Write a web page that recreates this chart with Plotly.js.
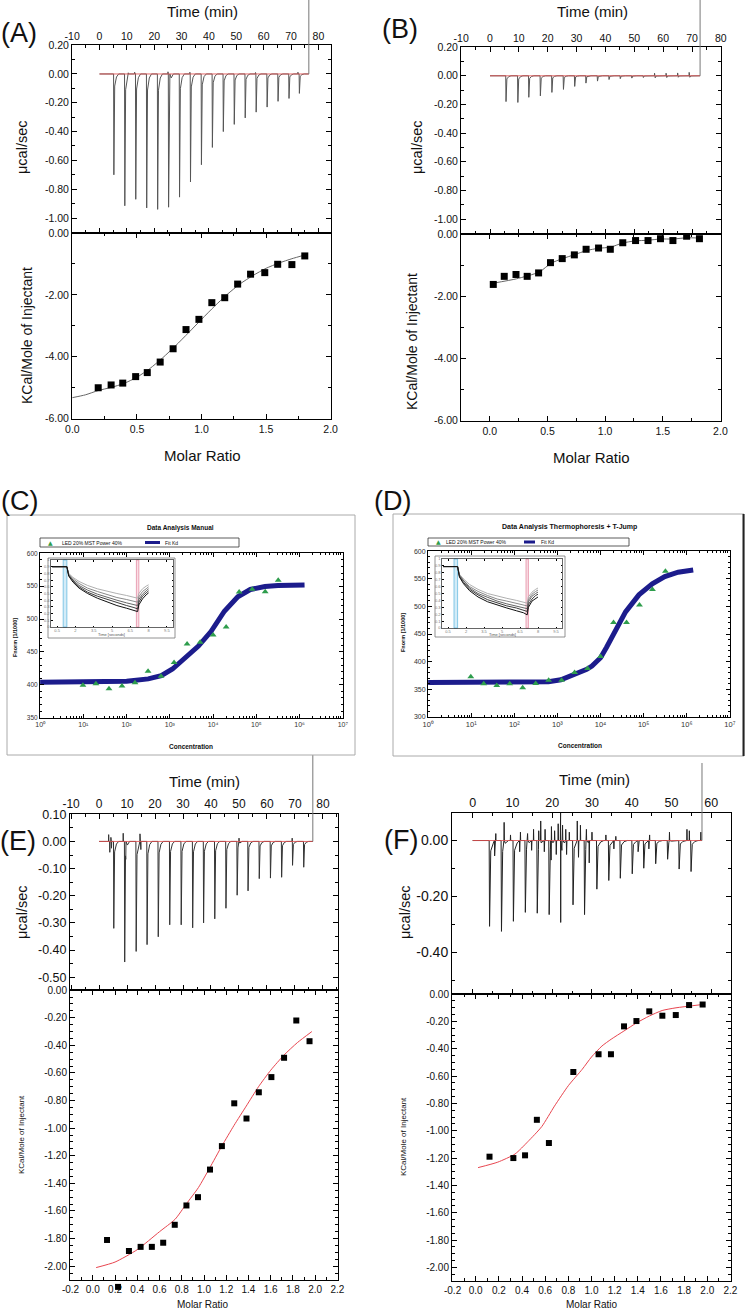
<!DOCTYPE html>
<html><head><meta charset="utf-8">
<script src="https://cdn.plot.ly/plotly-3.0.1.min.js"></script>
<style>html,body{margin:0;padding:0;background:#fff;}#chart{width:745px;height:1309px;}</style>
</head><body><div id="chart"></div>
<script>
// ================= DATA =================
// Panel A – raw ITC thermogram
const aInjTime = [5.2,9.2,13.2,17.2,21.2,25.2,29.2,33.2,37.2,41.2,45.2,49.2,53.2,57.2,61.2,65.2,69.2,73.0];
const aInjPeak = [-0.70,-0.915,-0.87,-0.93,-0.94,-0.925,-0.855,-0.75,-0.63,-0.51,-0.40,-0.35,-0.305,-0.265,-0.23,-0.19,-0.17,-0.135];
const aSubTime = [25.6];
const aSubPeak = [-0.065];
const aUpTime = [10.5,12.8,25.0,33.0,57.0,72.5];
const aUpPeak = [0.008,0.012,0.015,0.012,0.01,0.012];
const aEndTime = 76.5;
// Panel A – integrated heats
const aRatio = [0.20,0.30,0.39,0.49,0.58,0.68,0.78,0.88,0.98,1.08,1.18,1.28,1.38,1.49,1.59,1.70,1.80];
const aHeat = [-5.00,-4.91,-4.85,-4.64,-4.51,-4.17,-3.74,-3.12,-2.79,-2.25,-2.09,-1.65,-1.33,-1.28,-1.01,-1.02,-0.74];
const aFitRatio = [0,0.1,0.2,0.3,0.4,0.5,0.6,0.7,0.8,0.9,1.0,1.1,1.2,1.3,1.4,1.5,1.6,1.7,1.8];
const aFitHeat = [-5.32,-5.23,-5.09,-4.99,-4.86,-4.66,-4.38,-4.03,-3.64,-3.22,-2.79,-2.37,-1.98,-1.64,-1.37,-1.14,-0.97,-0.83,-0.71];

// Panel B – raw ITC thermogram
const bInjTime = [5.5,9.6,13.4,17.4,21.4,25.4,29.3,33.2,37.2,41.2,45.1,49.1,53.1,57.2,61.2,65.2,69.2];
const bInjPeak = [-0.18,-0.186,-0.15,-0.14,-0.116,-0.095,-0.074,-0.051,-0.037,-0.026,-0.02,-0.016,-0.012,-0.014,-0.012,-0.01,-0.01];
const bSubTime = [];
const bSubPeak = [];
const bUpTime = [57.0,61.0,65.0,69.0];
const bUpPeak = [0.018,0.018,0.02,0.024];
const bEndTime = 72.8;
// Panel B – integrated heats
const bRatio = [0.03,0.125,0.227,0.324,0.423,0.526,0.628,0.733,0.835,0.943,1.045,1.153,1.264,1.372,1.48,1.588,1.707,1.818];
const bHeat = [-1.62,-1.36,-1.30,-1.36,-1.25,-0.92,-0.79,-0.67,-0.49,-0.45,-0.49,-0.28,-0.21,-0.21,-0.15,-0.21,-0.07,-0.15];
const bFitRatio = [0.03,0.23,0.43,0.53,0.63,0.73,0.84,0.94,1.05,1.15,1.26,1.37,1.48,1.59,1.71,1.82];
const bFitHeat = [-1.58,-1.44,-1.22,-0.94,-0.79,-0.67,-0.53,-0.46,-0.42,-0.29,-0.22,-0.20,-0.16,-0.16,-0.12,-0.13];

// Panels C / D – MST
const mstConc = [9.77,19.5,39.1,78.1,156,313,625,1250,2500,5000,10000,20000,40000,80000,160000,320000];
const cFnorm = [399.5,401.5,394,398,403,420.7,413,434,462,464.6,475.8,488,541,545.5,541.4,559];
const cFitConc = [1,10,100,316,631,1150,2290,4570,8910,18200,37200,72400,158000,316000,1300000];
const cFitFnorm = [404,404,405.5,409,414,424,441,459,481,512,534,545,549.5,551,552];
const dFnorm = [372.3,359.6,356.6,359.6,352.4,360.2,366.3,366.3,380,387.3,409,471,471,502.4,530.7,563.9];
const dFitConc = [1,100,617,1200,2450,4790,6310,10000,13800,19950,38000,77600,158500,309000,631000,1410000];
const dFitFnorm = [362,362.5,363.5,367,376,386,392,407,426,450,490,521,541,554,562,566];
// MST time traces (insets)
const insetTime = [0.1,1.3,1.45,1.8,2.3,3.0,3.8,4.6,5.4,6.2,6.8,7.1,7.2,7.5,7.8,8.0];
const cTrace1 = [0.90,0.90,0.80,0.74,0.68,0.62,0.57,0.53,0.50,0.47,0.45,0.43,0.50,0.57,0.61,0.63];
const cTrace2 = [0.90,0.90,0.79,0.72,0.65,0.58,0.53,0.48,0.44,0.41,0.39,0.37,0.45,0.53,0.57,0.60];
const cTrace3 = [0.90,0.90,0.78,0.70,0.62,0.55,0.49,0.44,0.40,0.36,0.34,0.32,0.41,0.49,0.54,0.57];
const cTrace4 = [0.90,0.90,0.77,0.69,0.60,0.52,0.46,0.41,0.36,0.32,0.29,0.27,0.37,0.46,0.51,0.54];
const cTrace5 = [0.90,0.90,0.76,0.67,0.58,0.50,0.43,0.37,0.32,0.28,0.25,0.23,0.33,0.42,0.48,0.51];
const dTrace1 = [0.89,0.89,0.78,0.71,0.63,0.56,0.50,0.46,0.43,0.40,0.38,0.36,0.45,0.52,0.56,0.58];
const dTrace2 = [0.89,0.89,0.77,0.69,0.60,0.53,0.47,0.42,0.39,0.36,0.34,0.32,0.41,0.49,0.53,0.55];
const dTrace3 = [0.89,0.89,0.76,0.68,0.58,0.50,0.44,0.39,0.35,0.32,0.30,0.28,0.38,0.46,0.50,0.52];
const dTrace4 = [0.89,0.89,0.75,0.66,0.56,0.48,0.41,0.36,0.32,0.29,0.26,0.24,0.34,0.42,0.47,0.49];
const dTrace5 = [0.89,0.89,0.74,0.64,0.54,0.45,0.38,0.33,0.29,0.25,0.22,0.19,0.30,0.39,0.43,0.45];
const coldBand = [1.0,1.3];
const hotBand = [7.0,7.2];

// Panel E – raw ITC
const eInjTime = [5.2,9.1,13.2,17.1,21.1,25.2,29.3,33.4,37.3,41.3,45.3,49.3,53.2,57.2,61.2,65.2,69.1,73.1];
const eInjPeak = [-0.32,-0.444,-0.405,-0.38,-0.351,-0.307,-0.307,-0.318,-0.30,-0.285,-0.246,-0.198,-0.182,-0.137,-0.135,-0.132,-0.088,-0.095];
const eSubTime = [3.8,4.4,9.5,14.9];
const eSubPeak = [-0.04,-0.025,-0.066,-0.03];
const eUpTime = [3.4,4.2,8.6,14.6,50.0,69.0];
const eUpPeak = [0.025,0.015,0.03,0.028,0.012,0.012];
const eEndTime = 76.4;
// Panel E – integrated heats
const eRatio = [0.128,0.227,0.325,0.43,0.531,0.633,0.737,0.842,0.946,1.054,1.161,1.272,1.382,1.493,1.606,1.72,1.83,1.949];
const eHeat = [-1.81,-2.15,-1.89,-1.86,-1.86,-1.83,-1.70,-1.56,-1.50,-1.30,-1.13,-0.82,-0.93,-0.74,-0.63,-0.49,-0.22,-0.37];
const eFitRatio = [0.03,0.2,0.4,0.6,0.74,0.84,0.95,1.05,1.16,1.27,1.38,1.49,1.6,1.72,1.84,1.97];
const eFitHeat = [-2.01,-1.97,-1.88,-1.75,-1.66,-1.55,-1.43,-1.29,-1.13,-0.98,-0.84,-0.70,-0.58,-0.47,-0.38,-0.30];

// Panel F – raw ITC
const fInjTime = [4.2,7.2,10.2,13.2,16.2,19.2,22.1,25.2,28.1,31.2,34.2,37.1,40.1,43.0,46.0,49.0,51.9,54.9];
const fInjPeak = [-0.307,-0.325,-0.289,-0.257,-0.26,-0.265,-0.293,-0.23,-0.265,-0.174,-0.143,-0.135,-0.119,-0.099,-0.083,-0.067,-0.102,-0.111];
const fSubTime = [5.5,11.8,14.8,18.0,19.7,21.0,23.6,26.6,29.3,35.5,41.6,44.3];
const fSubPeak = [-0.055,-0.04,-0.035,-0.04,-0.07,-0.05,-0.05,-0.06,-0.08,-0.03,-0.04,-0.03];
const fUpTime = [5.8,7.9,9.5,12.0,13.8,15.3,16.6,17.1,18.2,19.8,20.6,21.5,22.1,22.6,23.4,24.3,26.3,27.1,28.6,30.0,33.5,36.0,44.5,49.5,53.9,54.5,57.4];
const fUpPeak = [0.025,0.065,0.02,0.03,0.025,0.04,0.035,0.07,0.04,0.05,0.035,0.06,0.10,0.055,0.04,0.03,0.07,0.055,0.04,0.03,0.02,0.015,0.02,0.03,0.04,0.035,0.03];
const fEndTime = 57.7;
// Panel F – integrated heats
const fRatio = [0.119,0.325,0.426,0.528,0.632,0.843,1.061,1.168,1.281,1.388,1.499,1.612,1.728,1.843,1.96];
const fHeat = [-1.19,-1.20,-1.18,-0.92,-1.09,-0.57,-0.44,-0.44,-0.236,-0.197,-0.126,-0.158,-0.153,-0.08,-0.076];
const fFitRatio = [0.02,0.19,0.34,0.45,0.57,0.68,0.8,0.92,1.0,1.09,1.17,1.28,1.39,1.5,1.61,1.73,1.96];
const fFitHeat = [-1.27,-1.23,-1.17,-1.08,-0.97,-0.82,-0.67,-0.55,-0.46,-0.38,-0.33,-0.27,-0.21,-0.16,-0.12,-0.10,-0.076];

// Tick labels
const timeTicksAE = [-10,0,10,20,30,40,50,60,70,80];
const timeTicksF = [0,10,20,30,40,50,60];
const powerTicksAB = [0.2,0,-0.2,-0.4,-0.6,-0.8,-1.0];
const heatTicksAB = [0,-2,-4,-6];
const ratioTicksAB = [0,0.5,1,1.5,2];
const powerTicksE = [0.1,0,-0.1,-0.2,-0.3,-0.4,-0.5];
const powerTicksF = [0,-0.2,-0.4];
const heatTicksEF = [0,-0.2,-0.4,-0.6,-0.8,-1.0,-1.2,-1.4,-1.6,-1.8,-2.0];
const ratioTicksEF = [-0.2,0,0.2,0.4,0.6,0.8,1.0,1.2,1.4,1.6,1.8,2.0,2.2];
const fnormTicksC = [350,400,450,500,550,600];
const fnormTicksD = [300,350,400,450,500,550,600];
const concTicks = [1,10,100,1000,10000,100000,1000000,10000000];
const concTickText = ['10⁰','10¹','10²','10³','10⁴','10⁵','10⁶','10⁷'];

// ================= HELPERS =================
const FONT = '"Liberation Sans", Arial, Helvetica, sans-serif';
const W = 745, H = 1309;
const px = v => v / W;
const py = v => 1 - v / H;

function thermo(injT, injD, subT, subV, upT, upV, endT) {
  const pts = [[0, 0]];
  injT.forEach((t, i) => { const d = injD[i];
    pts.push([t - 0.05, 0], [t + 0.05, d], [t + 0.35, 0.12 * d], [t + 1.0, 0.03 * d], [t + 1.8, 0]); });
  subT.forEach((t, i) => { pts.push([t - 0.03, 0], [t + 0.03, subV[i]], [t + 0.12, 0]); });
  upT.forEach((t, i) => { pts.push([t - 0.03, 0], [t + 0.02, upV[i]], [t + 0.08, 0]); });
  pts.push([endT, 0]);
  pts.sort((a, b) => a[0] - b[0]);
  return { x: pts.map(p => p[0]), y: pts.map(p => p[1]) };
}
function tk(vals, dec) { return { tickmode: 'array', tickvals: vals, ticktext: vals.map(v => v.toFixed(dec)) }; }
function ax(o) {
  const base = { showline: true, linecolor: '#000', linewidth: 1, mirror: 'allticks', ticks: 'inside', ticklen: 5,
    tickwidth: 1, tickcolor: '#000', showgrid: false, zeroline: false, fixedrange: true,
    tickfont: { family: FONT, size: 10.5, color: '#111' } };
  return Object.assign(base, o);
}
function minor(d, len) { return { ticks: 'inside', ticklen: len || 3, tickmode: 'linear', tick0: 0, dtick: d, tickcolor: '#000', showgrid: false }; }
function yPaper(axis, v) {
  const r = axis.range, d = axis.domain;
  return d[0] + (v - r[0]) / (r[1] - r[0]) * (d[1] - d[0]);
}

// ================= LAYOUT AXES =================
const layout = {
  width: W, height: H, margin: { l: 0, r: 0, t: 0, b: 0 }, paper_bgcolor: '#fff', plot_bgcolor: 'rgba(0,0,0,0)',
  showlegend: false, font: { family: FONT, color: '#111' },
  // A
  xaxis: ax(Object.assign({ domain: [px(72), px(331)], range: [-10.05, 84.6], side: 'top', anchor: 'y', minor: minor(5) }, tk(timeTicksAE, 0))),
  yaxis: ax(Object.assign({ domain: [py(233), py(45)], range: [-1.104, 0.201], anchor: 'x', minor: minor(0.1) }, tk(powerTicksAB, 2))),
  xaxis2: ax(Object.assign({ domain: [px(72), px(331)], range: [-0.003, 2.003], anchor: 'y2', minor: minor(0.25) }, tk(ratioTicksAB, 1))),
  yaxis2: ax(Object.assign({ domain: [py(419), py(233)], range: [-6.01, 0.001], anchor: 'x2', minor: minor(1) }, tk(heatTicksAB, 2))),
  // B
  xaxis3: ax(Object.assign({ domain: [px(461), px(721)], range: [-10.05, 80.05], side: 'top', anchor: 'y3', minor: minor(5) }, tk(timeTicksAE, 0))),
  yaxis3: ax(Object.assign({ domain: [py(234), py(47)], range: [-1.104, 0.201], anchor: 'x3', minor: minor(0.1) }, tk(powerTicksAB, 2))),
  xaxis4: ax(Object.assign({ domain: [px(461), px(721)], range: [-0.25, 2.005], anchor: 'y4', minor: minor(0.25) }, tk(ratioTicksAB, 1))),
  yaxis4: ax(Object.assign({ domain: [py(421), py(234)], range: [-6.01, 0.001], anchor: 'x4', minor: minor(1) }, tk(heatTicksAB, 2))),
  // C
  xaxis5: ax({ type: 'log', domain: [px(40), px(343)], range: [-0.003, 7.003], anchor: 'y5', tickmode: 'array', tickvals: concTicks, ticktext: concTickText,
    ticklen: 4, tickfont: { family: FONT, size: 7, color: '#333' }, minor: { ticks: 'inside', ticklen: 2, tickmode: 'linear', dtick: 'D1', tickcolor: '#000' } }),
  yaxis5: ax(Object.assign({ domain: [py(718), py(553)], range: [349.5, 600.5], anchor: 'x5', ticklen: 4, tickfont: { family: FONT, size: 6.5, color: '#333' }, minor: minor(10, 2) }, tk(fnormTicksC, 0))),
  xaxis6: ax({ domain: [px(51), px(173)], range: [0, 10], anchor: 'y6', dtick: 1.5, tick0: 0.5, ticklen: 1.5, linewidth: 0.6, tickfont: { family: FONT, size: 4, color: '#777' } }),
  yaxis6: ax({ domain: [py(627), py(560)], range: [0, 1], anchor: 'x6', dtick: 0.1, ticklen: 1.5, linewidth: 0.6, tickfont: { family: FONT, size: 4, color: '#777' } }),
  // D
  xaxis7: ax({ type: 'log', domain: [px(428), px(730)], range: [-0.003, 7.003], anchor: 'y7', tickmode: 'array', tickvals: concTicks, ticktext: concTickText,
    ticklen: 4, tickfont: { family: FONT, size: 7.5, color: '#333' }, minor: { ticks: 'inside', ticklen: 2, tickmode: 'linear', dtick: 'D1', tickcolor: '#000' } }),
  yaxis7: ax(Object.assign({ domain: [py(717), py(551)], range: [299.5, 600.5], anchor: 'x7', ticklen: 4, tickfont: { family: FONT, size: 7, color: '#333' }, minor: minor(10, 2) }, tk(fnormTicksD, 0))),
  xaxis8: ax({ domain: [px(442), px(562)], range: [0, 10], anchor: 'y8', dtick: 1.5, tick0: 0.5, ticklen: 1.5, linewidth: 0.6, tickfont: { family: FONT, size: 4, color: '#777' } }),
  yaxis8: ax({ domain: [py(628), py(559)], range: [0, 1], anchor: 'x8', dtick: 0.1, ticklen: 1.5, linewidth: 0.6, tickfont: { family: FONT, size: 4, color: '#777' } }),
  // E
  xaxis9: ax(Object.assign({ domain: [px(70), px(338)], range: [-10.4, 85.4], side: 'top', anchor: 'y9', minor: minor(5), tickfont: { family: FONT, size: 12, color: '#111' } }, tk(timeTicksAE, 0))),
  yaxis9: ax(Object.assign({ domain: [py(990), py(814)], range: [-0.547, 0.101], anchor: 'x9', minor: minor(0.05), tickfont: { family: FONT, size: 12.5, color: '#111' } }, tk(powerTicksE, 2))),
  xaxis10: ax(Object.assign({ domain: [px(70), px(338)], range: [-0.205, 2.205], anchor: 'y10', minor: minor(0.1), tickfont: { family: FONT, size: 10, color: '#111' } }, tk(ratioTicksEF, 1))),
  yaxis10: ax(Object.assign({ domain: [py(1280), py(990)], range: [-2.10, 0.001], anchor: 'x10', minor: minor(0.05), tickfont: { family: FONT, size: 10, color: '#111' } }, tk(heatTicksEF, 2))),
  // F
  xaxis11: ax(Object.assign({ domain: [px(452), px(731)], range: [-5.2, 65], side: 'top', anchor: 'y11', minor: minor(5), tickfont: { family: FONT, size: 12.5, color: '#111' } }, tk(timeTicksF, 0))),
  yaxis11: ax(Object.assign({ domain: [py(994), py(813)], range: [-0.549, 0.0985], anchor: 'x11', minor: minor(0.1), tickfont: { family: FONT, size: 14, color: '#111' } }, tk(powerTicksF, 2))),
  xaxis12: ax(Object.assign({ domain: [px(452), px(731)], range: [-0.205, 2.205], anchor: 'y12', minor: minor(0.1), tickfont: { family: FONT, size: 10, color: '#111' } }, tk(ratioTicksEF, 1))),
  yaxis12: ax(Object.assign({ domain: [py(1281), py(994)], range: [-2.10, 0.001], anchor: 'x12', minor: minor(0.05), tickfont: { family: FONT, size: 10, color: '#111' } }, tk(heatTicksEF, 2))),
};
// E: hidden companion axes with the same scale as panel E's heat plot, extended a little below
// its frame, so the one injection point that sits just under the axis line is still drawn.
(function () {
  const x10 = layout.xaxis10, y10 = layout.yaxis10;
  const unitsPerPx = (y10.range[1] - y10.range[0]) / (1280 - 990);
  layout.xaxis13 = { domain: x10.domain.slice(), range: x10.range.slice(), anchor: 'y13', visible: false, fixedrange: true, showgrid: false, zeroline: false };
  layout.yaxis13 = { domain: [py(1296), py(990)], range: [y10.range[1] - (1296 - 990) * unitsPerPx, y10.range[1]],
    anchor: 'x13', visible: false, fixedrange: true, showgrid: false, zeroline: false };
})();

// ================= TRACES =================
const traces = [];
function rawPanel(xa, ya, injT, injD, subT, subV, upT, upV, endT, spikeColor) {
  const th = thermo(injT, injD, subT, subV, upT, upV, endT);
  traces.push({ x: th.x, y: th.y, xaxis: xa, yaxis: ya, mode: 'lines', line: { color: spikeColor, width: 1 }, hoverinfo: 'skip' });
  traces.push({ x: [0, endT], y: [0, 0], xaxis: xa, yaxis: ya, mode: 'lines', line: { color: 'rgba(225,80,80,0.85)', width: 1 }, hoverinfo: 'skip' });
}
function heatPanel(xa, ya, xaM, yaM, fx, fy, rx, ry, fitColor, msize) {
  traces.push({ x: fx, y: fy, xaxis: xa, yaxis: ya, mode: 'lines', line: { color: fitColor, width: 1, shape: 'spline', smoothing: 0.6 }, hoverinfo: 'skip' });
  traces.push({ x: rx, y: ry, xaxis: xaM, yaxis: yaM, mode: 'markers', marker: { symbol: 'square', size: msize, color: '#000' }, hoverinfo: 'skip' });
}
rawPanel('x', 'y', aInjTime, aInjPeak, aSubTime, aSubPeak, aUpTime, aUpPeak, aEndTime, '#555');
heatPanel('x2', 'y2', 'x2', 'y2', aFitRatio, aFitHeat, aRatio, aHeat, '#666', 7);
rawPanel('x3', 'y3', bInjTime, bInjPeak, bSubTime, bSubPeak, bUpTime, bUpPeak, bEndTime, '#555');
heatPanel('x4', 'y4', 'x4', 'y4', bFitRatio, bFitHeat, bRatio, bHeat, '#666', 7);
rawPanel('x9', 'y9', eInjTime, eInjPeak, eSubTime, eSubPeak, eUpTime, eUpPeak, eEndTime, '#333');
heatPanel('x10', 'y10', 'x13', 'y13', eFitRatio, eFitHeat, eRatio, eHeat, '#e8454f', 6);
rawPanel('x11', 'y11', fInjTime, fInjPeak, fSubTime, fSubPeak, fUpTime, fUpPeak, fEndTime, '#222');
heatPanel('x12', 'y12', 'x12', 'y12', fFitRatio, fFitHeat, fRatio, fHeat, '#e8454f', 6);

// MST main plots
function mstPanel(xa, ya, fx, fy, conc, fn) {
  traces.push({ x: fx, y: fy, xaxis: xa, yaxis: ya, mode: 'lines', line: { color: '#1c1c8c', width: 5 }, hoverinfo: 'skip' });
  traces.push({ x: conc, y: fn, xaxis: xa, yaxis: ya, mode: 'markers', marker: { symbol: 'triangle-up', size: 6, color: '#2e9d4c' }, hoverinfo: 'skip' });
}
mstPanel('x5', 'y5', cFitConc, cFitFnorm, mstConc, cFnorm);
mstPanel('x7', 'y7', dFitConc, dFitFnorm, mstConc, dFnorm);
const grays = ['#b0b0b0', '#8a8a8a', '#666', '#3c3c3c', '#111'];
[cTrace1, cTrace2, cTrace3, cTrace4, cTrace5].forEach((tr, i) =>
  traces.push({ x: insetTime, y: tr, xaxis: 'x6', yaxis: 'y6', mode: 'lines', line: { color: grays[i], width: 1 }, hoverinfo: 'skip' }));
[dTrace1, dTrace2, dTrace3, dTrace4, dTrace5].forEach((tr, i) =>
  traces.push({ x: insetTime, y: tr, xaxis: 'x8', yaxis: 'y8', mode: 'lines', line: { color: grays[i], width: 1 }, hoverinfo: 'skip' }));

// ================= SHAPES =================
const shapes = [];
function vline(xa, axis, endT, topPage) {
  shapes.push({ type: 'line', xref: xa, yref: 'paper', x0: endT, x1: endT, y0: yPaper(axis, 0), y1: py(topPage), line: { color: '#777', width: 1 } });
}
vline('x', layout.yaxis, aEndTime, 0);
vline('x3', layout.yaxis3, bEndTime, 0);
vline('x9', layout.yaxis9, eEndTime, 755);
vline('x11', layout.yaxis11, fEndTime, 763);
function prect(x0, x1, y0, y1, color, w) { shapes.push({ type: 'rect', xref: 'paper', yref: 'paper', x0: px(x0), x1: px(x1), y0: py(y1), y1: py(y0), line: { color: color, width: w } }); }
// MST panel frames, legends, insets
prect(7, 355, 515, 755, '#aaa', 1);
prect(393, 744, 514, 756, '#aaa', 1);
shapes.push({ type: 'line', xref: 'paper', yref: 'paper', x0: px(743.5), x1: px(743.5), y0: py(756), y1: py(514), line: { color: '#222', width: 2 } });
prect(40, 239, 538, 547, '#333', 0.8);
prect(428, 629, 538, 546, '#333', 0.8);
shapes.push({ type: 'line', xref: 'paper', yref: 'paper', x0: px(145), x1: px(160), y0: py(542.5), y1: py(542.5), line: { color: '#1c1c8c', width: 3 } });
shapes.push({ type: 'line', xref: 'paper', yref: 'paper', x0: px(524), x1: px(535), y0: py(542), y1: py(542), line: { color: '#1c1c8c', width: 3 } });
prect(48, 175, 558, 638, '#777', 0.8);
prect(435, 565, 556, 637, '#777', 0.8);
[['x6', 'y6 domain'], ['x8', 'y8 domain']].forEach(([xr, yr]) => {
  shapes.push({ type: 'rect', xref: xr, yref: yr, x0: coldBand[0], x1: coldBand[1], y0: 0, y1: 1, fillcolor: 'rgba(130,200,235,0.35)', line: { color: '#6bbbe0', width: 0.8 }, layer: 'below' });
  shapes.push({ type: 'rect', xref: xr, yref: yr, x0: hotBand[0], x1: hotBand[1], y0: 0, y1: 1, fillcolor: 'rgba(240,160,180,0.35)', line: { color: '#e58fa5', width: 0.8 }, layer: 'below' });
});
layout.shapes = shapes;

// ================= TEXT =================
const ann = [];
function t(text, x, y, size, opts) {
  const o = opts || {};
  const font = Object.assign({ family: FONT, size: size, color: '#111' }, o.font || {});
  const a = Object.assign({ text: text, x: px(x), y: py(y), xref: 'paper', yref: 'paper', showarrow: false, xanchor: 'center', yanchor: 'middle' }, o);
  a.font = font;
  ann.push(a);
}
t('(A)', 19, 33, 27); t('(B)', 400, 29, 27); t('(C)', 19, 501, 27); t('(D)', 392, 501, 27); t('(E)', 18, 841, 27); t('(F)', 401, 840, 27);
t('Time (min)', 202, 12, 15); t('Time (min)', 592, 12, 15); t('Time (min)', 204, 781, 15); t('Time (min)', 594, 779, 15);
t('μcal/sec', 22, 148, 14.5, { textangle: -90 }); t('μcal/sec', 417, 148, 14.5, { textangle: -90 });
t('μcal/sec', 22, 913, 14.5, { textangle: -90 }); t('μcal/sec', 405, 913, 14.5, { textangle: -90 });
t('KCal/Mole of Injectant', 27, 336, 14, { textangle: -90 }); t('KCal/Mole of Injectant', 412, 342, 14, { textangle: -90 });
t('KCal/Mole of Injectant', 21, 1135, 8, { textangle: -90 }); t('KCal/Mole of Injectant', 403, 1137, 8, { textangle: -90 });
t('Molar Ratio', 202, 455, 15); t('Molar Ratio', 591, 457, 15); t('Molar Ratio', 203, 1304, 10); t('Molar Ratio', 592, 1304, 10);
// MST text
const bold = () => ({ font: { weight: 'bold' } });
t('Data Analysis Manual', 180, 528, 6.5, bold());
t('Data Analysis Thermophoresis + T-Jump', 569, 527, 7, bold());
t('▲', 50, 542.5, 6, { font: { family: 'DejaVu Sans', color: '#2e9d4c' } });
t('▲', 438, 542, 6, { font: { family: 'DejaVu Sans', color: '#2e9d4c' } });
t('LED 20% MST Power 40%', 60, 542.5, 5, { xanchor: 'left' });
t('LED 20% MST Power 40%', 444, 542, 5, { xanchor: 'left' });
t('Fit Kd', 163, 542.5, 5, { xanchor: 'left' });
t('Fit Kd', 539, 542, 5, { xanchor: 'left' });
t('Fnorm [1/1000]', 15, 637, 5.5, { textangle: -90, font: { weight: 'bold' } });
t('Fnorm [1/1000]', 403, 633, 5.5, { textangle: -90, font: { weight: 'bold' } });
t('Concentration', 191, 746, 6.5, bold());
t('Concentration', 580, 745, 6.5, bold());
t('Time [seconds]', 112, 634.5, 4, { font: { color: '#555' } });
t('Time [seconds]', 502, 634, 4, { font: { color: '#555' } });
layout.annotations = ann;

Plotly.newPlot('chart', traces, layout, { staticPlot: true, displayModeBar: false });
</script>
</body></html>
